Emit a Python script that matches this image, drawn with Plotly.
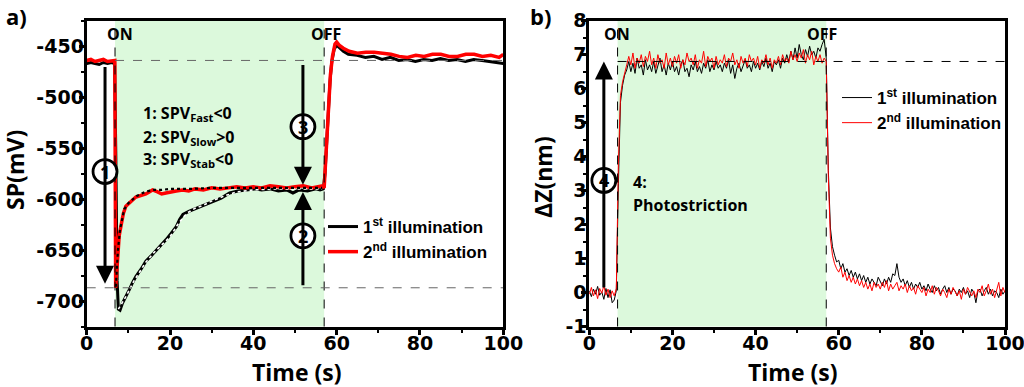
import numpy as np
import plotly.graph_objects as go

W, H = 1024, 387
TICKF = "DejaVu Sans"
LEGF = "Liberation Sans"
TXTF = "Open Sans"

# ---------------- Panel a) data : surface potential (mV) ----------------
t_sp1 = [0, 1, 2, 3, 4, 5, 6, 6.7, 7.0, 7.3, 7.6, 8.0, 8.6, 9.4, 10.2, 11.0, 11.8, 13.0, 14.2, 15.4,
         16.6, 17.8, 19.0, 20.2, 21.5, 22.3, 23.1, 24.5, 26.3, 28.3, 30.3, 32.3, 34.3, 36.3, 38.3, 40.3,
         42.0, 44.0, 46.0, 48.0, 49.5, 51.0, 53.0, 55.0, 56.0, 56.8, 57.2, 57.6, 58.0, 58.4, 58.8, 59.4,
         60.0, 60.8, 61.6, 62.8, 64.9, 66.9, 68.9, 70.9, 72.9, 74.9, 76.9, 78.9, 80.9, 82.9, 84.9, 86.9,
         88.9, 90.9, 92.9, 94.9, 96.9, 98.9, 100]
sp1 = [-467, -466, -467, -468, -466, -467, -466, -467, -560, -680, -708, -709, -702, -696, -689, -682, -676, -669, -661, -656,
       -651, -645, -640, -634, -627, -620, -615, -612, -609, -606, -602, -599, -594, -592, -591, -590,
       -591, -590, -592, -591, -594, -591, -592, -590, -591, -590, -575, -545, -512, -485, -466, -453,
       -449, -452, -455, -458, -459, -461, -460, -463, -461, -464, -463, -465, -463, -464, -462, -464,
       -463, -465, -463, -464, -465, -466, -467]

t_sp2 = [0, 1, 2, 3, 4, 5, 6, 6.75, 6.95, 7.4, 7.8, 8.2, 8.8, 9.4, 10.2, 11.0, 11.8, 12.6, 13.4, 14.2,
         15.0, 15.8, 17.0, 18.0, 19.0, 20.0, 21.5, 23.0, 24.5, 26, 28, 30, 32, 34, 36, 38, 40, 42, 44, 46,
         48, 50, 52, 54, 55.5, 56.5, 57.0, 57.4, 58.0, 58.5, 59.0, 59.6, 60.0, 60.6, 61.6, 63, 65, 67, 69, 71,
         73, 75, 77, 79, 81, 83, 85, 87, 89, 91, 93, 95, 97, 99, 100]
sp2 = [-464, -463, -465, -464, -463, -465, -464, -464, -687, -653, -636, -627, -614, -607, -604, -602, -598, -597, -596, -595,
       -593, -591, -593, -595, -594, -593, -592, -591, -592, -590, -591, -589, -590, -589, -588, -589, -588, -589, -587, -588,
       -589, -588, -587, -589, -588, -587, -589, -560, -510, -478, -460, -448, -446, -449, -452, -455, -457, -456, -456, -457,
       -458, -460, -461, -459, -460, -458, -458, -460, -460, -458, -458, -460, -459, -461, -458]

# fitted curves drawn as dotted overlays
t_fit1 = [7.6, 8.5, 9.5, 10.5, 11.5, 12.5, 14, 16, 18, 20, 22, 24, 26, 28, 30, 33, 36, 40, 45, 50, 56.5]
fit1 = [-708, -702, -695, -687, -679, -673, -663, -653, -645, -637, -624, -614, -609, -606, -602, -597, -593, -591, -590, -590, -590]
t_fit2 = [7.0, 7.5, 8, 8.5, 9, 10, 11, 12, 13, 14, 15, 16, 18, 20, 25, 30, 35, 40, 45, 50, 56.5]
fit2 = [-686, -650, -630, -618, -610, -604, -600, -597, -595, -593, -592, -591, -591, -590, -590, -589, -589, -589, -589, -589, -589]

# ---------------- Panel b) data : height change (nm), 0.5 s sampling ----------------
t_dz = np.arange(0, 100.25, 0.5)
dz1 = [0.05, -0.12, 0.10, -0.05, 0.18, -0.08, 0.02, -0.20, 0.12, -0.15,
       0.08, -0.30, -0.22, 0.05, 3.2, 5.6, 6.1, 6.4, 6.55, 6.8,
       6.5, 6.75, 6.45, 6.9, 6.6, 6.7, 6.4, 6.85, 6.55, 6.7,
       6.5, 6.8, 6.45, 6.65, 6.9, 6.5, 6.7, 6.4, 6.75, 6.55,
       6.8, 6.5, 6.65, 6.4, 6.7, 6.85, 6.5, 6.6, 6.35, 6.7,
       6.55, 6.8, 6.5, 6.65, 6.45, 6.75, 6.6, 6.85, 6.5, 6.7,
       6.55, 6.8, 6.6, 6.7, 6.5, 6.75, 6.6, 6.85, 6.45, 6.7,
       6.3, 6.6, 6.75, 6.5, 6.7, 6.85, 6.6, 6.7, 6.5, 6.8,
       6.6, 6.75, 6.55, 6.8, 6.65, 6.9, 6.6, 6.75, 6.5, 6.8,
       6.7, 6.85, 6.6, 6.9, 6.75, 7.0, 6.8, 7.1, 6.85, 7.2,
       6.9, 7.3, 7.0, 6.85, 7.15, 6.95, 7.25, 7.0, 7.1, 6.9,
       7.2, 7.1, 7.3, 7.45, 6.9, 3.6, 1.9, 1.35, 1.1, 0.9,
       0.95, 0.7, 0.85, 0.6, 0.7, 0.5, 0.65, 0.45, 0.6, 0.4,
       0.55, 0.35, 0.5, 0.3, 0.45, 0.25, 0.4, 0.3, 0.2, 0.45,
       0.3, 0.2, 0.4, 0.25, 0.45, 0.3, 0.55, 0.5, 0.85, 0.45,
       0.3, 0.4, 0.2, 0.35, 0.15, 0.3, 0.1, 0.25, 0.15, 0.3,
       0.1, 0.2, 0.05, 0.25, 0.1, 0.0, 0.2, 0.05, 0.15, -0.05,
       0.1, 0.2, 0.0, 0.15, -0.05, 0.1, 0.05, -0.1, 0.1, 0.0,
       0.15, -0.05, 0.05, -0.15, 0.1, 0.0, -0.3, 0.05, 0.1, -0.1,
       0.05, 0.15, -0.05, 0.1, -0.1, 0.05, 0.0, -0.15, 0.1, -0.05,
       0.05]
dz2 = [-0.05, 0.15, -0.10, 0.08, -0.18, 0.12, -0.02, 0.20, -0.08, 0.10,
       -0.15, 0.05, -0.10, 0.12, 3.8, 5.8, 6.2, 6.5, 6.7, 6.95,
       6.7, 7.05, 6.6, 6.9, 6.75, 7.0, 6.65, 6.95, 6.8, 7.1,
       6.7, 6.9, 6.6, 7.0, 6.75, 6.85, 6.6, 7.05, 6.7, 6.9,
       6.65, 6.95, 6.75, 7.0, 6.6, 6.85, 6.7, 7.05, 6.8, 6.9,
       6.7, 7.0, 6.6, 6.85, 6.75, 7.1, 6.65, 6.95, 6.8, 6.9,
       6.6, 6.95, 6.7, 6.85, 6.75, 7.0, 6.65, 6.9, 6.8, 7.05,
       6.7, 6.85, 6.6, 6.95, 6.75, 6.9, 6.65, 7.0, 6.8, 6.9,
       6.7, 6.95, 6.6, 6.85, 6.75, 7.0, 6.7, 6.9, 6.6, 6.85,
       6.75, 6.95, 6.7, 7.0, 6.8, 6.9, 6.75, 7.1, 6.85, 7.0,
       6.8, 7.05, 6.9, 7.15, 6.75, 7.0, 6.85, 7.1, 6.7, 6.95,
       6.8, 7.0, 6.75, 6.9, 6.8, 3.4, 1.6, 1.1, 0.85, 0.7,
       0.6, 0.75, 0.45, 0.6, 0.35, 0.5, 0.3, 0.45, 0.25, 0.4,
       0.2, 0.35, 0.15, 0.3, 0.1, 0.25, 0.05, 0.3, 0.15, 0.25,
       0.1, 0.3, 0.15, 0.35, 0.05, 0.25, 0.1, 0.2, 0.3, 0.05,
       0.2, 0.1, 0.25, 0.0, 0.2, 0.05, 0.15, -0.05, 0.2, 0.1,
       0.0, 0.15, -0.1, 0.1, 0.0, 0.2, -0.05, 0.15, 0.05, -0.1,
       0.1, 0.0, -0.15, 0.1, -0.05, 0.15, 0.0, -0.1, 0.05, -0.2,
       0.1, -0.05, 0.15, 0.0, -0.1, 0.05, -0.15, 0.1, 0.0, 0.2,
       -0.1, 0.05, 0.25, -0.05, 0.1, -0.15, 0.05, 0.3, -0.1, 0.15,
       0.0]

x_ticks = [0, 20, 40, 60, 80, 100]
sp_ticks = [-700, -650, -600, -550, -500, -450]
dz_ticks = [-1, 0, 1, 2, 3, 4, 5, 6, 7, 8]

T_ON, T_OFF = 6.8, 57.0
SP_DARK, SP_LOW = -464, -687
DZ_LEVEL = 6.8

names = ["<b>1<sup>st</sup> illumination</b>", "<b>2<sup>nd</sup> illumination</b>"]


def px(x, y):
    return x / W, 1 - y / H


def bold_labels(vals):
    return ["<b>%s</b>" % str(v) for v in vals]


fig = go.Figure()
fig.add_trace(go.Scatter(x=t_sp1, y=sp1, mode="lines", line=dict(color="black", width=3),
                         name=names[0], xaxis="x", yaxis="y", legend="legend"))
fig.add_trace(go.Scatter(x=t_sp2, y=sp2, mode="lines", line=dict(color="#ff0000", width=3.5),
                         name=names[1], xaxis="x", yaxis="y", legend="legend"))
fig.add_trace(go.Scatter(x=t_fit1, y=fit1, mode="lines", line=dict(color="white", width=1.6, dash="dot"),
                         showlegend=False, xaxis="x", yaxis="y"))
fig.add_trace(go.Scatter(x=t_fit2, y=fit2, mode="lines", line=dict(color="black", width=2.2, dash="dot"),
                         showlegend=False, xaxis="x", yaxis="y"))
fig.add_trace(go.Scatter(x=t_dz, y=dz1, mode="lines", line=dict(color="black", width=1),
                         name=names[0], xaxis="x2", yaxis="y2", legend="legend2"))
fig.add_trace(go.Scatter(x=t_dz, y=dz2, mode="lines", line=dict(color="#ff0000", width=1),
                         name=names[1], xaxis="x2", yaxis="y2", legend="legend2"))

tickfont = dict(family=TICKF, size=19, color="black")
common_axis = dict(showline=True, linewidth=3, linecolor="black", mirror=True, showgrid=False,
                   zeroline=False, ticks="outside", ticklen=5, tickwidth=2.5, tickcolor="black",
                   tickfont=tickfont, automargin=False, ticklabeloverflow="allow")
minor = dict(ticks="outside", ticklen=3, tickwidth=2, tickcolor="black")
xl0, xl1 = 86.7, 503.3
xr0, xr1 = 589.3, 1005.0
yt, yb = 20.7, 326.5
fig.update_layout(
    width=W, height=H, margin=dict(l=0, r=0, t=0, b=0, pad=0, autoexpand=False),
    paper_bgcolor="white", plot_bgcolor="white", showlegend=True,
    xaxis=dict(domain=[xl0 / W, xl1 / W], range=[0, 100], tickvals=x_ticks, ticktext=bold_labels(x_ticks),
               minor=dict(dtick=10, tick0=0, **minor), anchor="y", ticklabelstandoff=-7, **common_axis),
    yaxis=dict(domain=[1 - yb / H, 1 - yt / H], range=[-725, -425], tickvals=sp_ticks,
               ticktext=bold_labels(sp_ticks), minor=dict(dtick=25, tick0=-700, **minor),
               anchor="x", ticklabelstandoff=-9, **common_axis),
    xaxis2=dict(domain=[xr0 / W, xr1 / W], range=[0, 100], tickvals=x_ticks, ticktext=bold_labels(x_ticks),
                minor=dict(dtick=10, tick0=0, **minor), anchor="y2", ticklabelstandoff=-7, **common_axis),
    yaxis2=dict(domain=[1 - yb / H, 1 - yt / H], range=[-1, 8], tickvals=dz_ticks,
                ticktext=bold_labels(dz_ticks), minor=dict(dtick=0.5, tick0=0, **minor),
                anchor="x2", ticklabelstandoff=-9, **common_axis),
    legend=dict(x=px(323, 0)[0], y=px(0, 209)[1], xanchor="left", yanchor="top",
                bgcolor="rgba(0,0,0,0)", font=dict(family=LEGF, size=17, color="black"),
                tracegroupgap=0),
    legend2=dict(x=px(837, 0)[0], y=px(0, 80)[1], xanchor="left", yanchor="top",
                 bgcolor="rgba(0,0,0,0)", font=dict(family=LEGF, size=17, color="black"),
                 tracegroupgap=0),
)

shapes = []
for xr, yr in (("x", "y"), ("x2", "y2")):
    shapes.append(dict(type="rect", xref=xr, yref=yr + " domain", x0=T_ON, x1=T_OFF, y0=0, y1=1,
                       fillcolor="#dcf9dc", line=dict(width=0), layer="below"))
    for tv in (T_ON, T_OFF):
        shapes.append(dict(type="line", xref=xr, yref=yr + " domain", x0=tv, x1=tv, y0=0, y1=1,
                           line=dict(color="black", width=1, dash="dash"), layer="above"))
shapes.append(dict(type="line", xref="x", yref="y", x0=T_ON, x1=100, y0=SP_DARK, y1=SP_DARK,
                   line=dict(color="#666666", width=1, dash="dash")))
shapes.append(dict(type="line", xref="x", yref="y", x0=0, x1=100, y0=SP_LOW, y1=SP_LOW,
                   line=dict(color="#666666", width=1, dash="dash")))
shapes.append(dict(type="line", xref="x2", yref="y2", x0=T_ON, x1=100, y0=DZ_LEVEL, y1=DZ_LEVEL,
                   line=dict(color="black", width=1, dash="dash")))

ann = []
# arrows (tail -> tip)
arrows = [("x", "y", 4.4, -469, -683), ("x", "y", 51.9, -467, -586), ("x", "y", 51.9, -686, -593),
          ("x2", "y2", 3.5, 0.1, 6.8)]
for xr, yr, xa, ytail, ytip in arrows:
    ann.append(dict(xref=xr, yref=yr, axref=xr, ayref=yr, x=xa, y=ytip, ax=xa, ay=ytail, text="",
                    showarrow=True, arrowhead=2, arrowsize=1.2, arrowwidth=3, arrowcolor="black",
                    standoff=0, startstandoff=0))
# circled numbers
circles = [("x", "y", 4.4, -573, "1"), ("x", "y", 51.9, -529, "3"), ("x", "y", 51.9, -636, "2"),
           ("x2", "y2", 3.5, 3.3, "4")]
for xr, yr, xc, yc, lab in circles:
    shapes.append(dict(type="circle", xref=xr, yref=yr, xsizemode="pixel", ysizemode="pixel",
                       xanchor=xc, yanchor=yc, x0=-12, x1=12, y0=-12, y1=12,
                       fillcolor="white", line=dict(color="black", width=2.8), layer="above"))
    ann.append(dict(xref=xr, yref=yr, x=xc, y=yc, text="<b>%s</b>" % lab, showarrow=False,
                    font=dict(family=TXTF, size=18, color="black"),
                    xanchor="center", yanchor="middle"))


def text(xp, yp, s, size=17, anchor="center", family=TXTF, angle=0):
    x, y = px(xp, yp)
    ann.append(dict(xref="paper", yref="paper", x=x, y=y, text=s, showarrow=False, textangle=angle,
                    font=dict(family=family, size=size, color="black"),
                    xanchor=anchor, yanchor="middle"))


text(120, 34, "<b>ON</b>", 16)
text(326, 34, "<b>OFF</b>", 16)
text(617, 34, "<b>ON</b>", 16)
text(822, 34, "<b>OFF</b>", 16)
text(141, 113, "<b>1: SPV<sub>Fast</sub>&lt;0</b>", 16, "left")
text(141, 137, "<b>2: SPV<sub>Slow</sub>&gt;0</b>", 16, "left")
text(141, 160, "<b>3: SPV<sub>Stab</sub>&lt;0</b>", 16, "left")
text(631, 182, "<b>4:</b>", 16, "left")
text(631, 205, "<b>Photostriction</b>", 16, "left")
text(297, 372, "<b>Time (s)</b>", 23)
text(793, 372, "<b>Time (s)</b>", 23)
text(15, 170, "<b>SP(mV)</b>", 23, angle=-90)
text(543, 177, "<b>ΔZ(nm)</b>", 23, angle=-90)
text(16, 16, "<b>a)</b>", 22)
text(540, 16, "<b>b)</b>", 22)

fig.update_layout(shapes=shapes, annotations=ann)
fig.write_html("out.html", config={"displayModeBar": False},
               post_script="document.body.style.margin='0';document.body.style.overflow='hidden';")
